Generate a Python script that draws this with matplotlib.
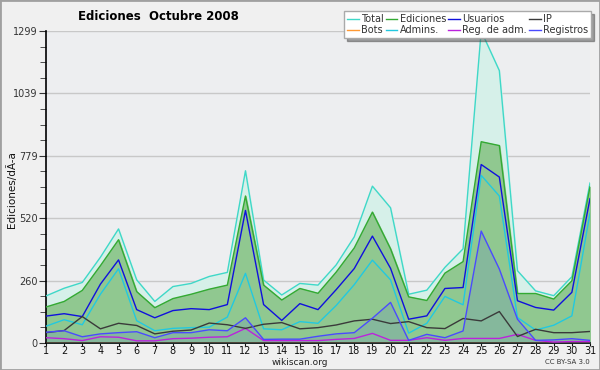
import matplotlib
matplotlib.use("Agg")
import matplotlib.pyplot as plt
from matplotlib.patches import Rectangle
from matplotlib.ticker import MultipleLocator

# days of October 2008
days = list(range(1, 32))

total = [196, 228, 252, 357, 475, 263, 173, 235, 248, 277, 294, 717, 262, 200, 248, 241,
         325, 442, 653, 563, 203, 220, 315, 392, 1299, 1134, 301, 217, 197, 276, 666]
ediciones = [150, 173, 219, 322, 430, 214, 147, 185, 203, 224, 241, 612, 241, 179, 227, 207,
             295, 396, 545, 392, 192, 177, 291, 339, 838, 822, 206, 206, 183, 259, 650]
usuarios = [112, 122, 110, 245, 346, 139, 105, 135, 143, 139, 160, 552, 160, 94, 164, 139,
            222, 310, 445, 311, 99, 113, 227, 231, 743, 691, 176, 148, 137, 211, 601]
ip = [43, 52, 110, 59, 82, 73, 38, 49, 54, 83, 76, 61, 78, 85, 59, 64,
      75, 92, 99, 81, 89, 64, 60, 102, 92, 131, 27, 57, 43, 43, 48]
bots = [0] * 31
admins = [70, 97, 76, 203, 309, 93, 51, 61, 64, 66, 108, 290, 59, 55, 89, 82,
          156, 243, 345, 263, 41, 82, 194, 159, 698, 612, 106, 54, 74, 113, 540]
reg_adm = [22, 18, 10, 26, 24, 9, 9, 18, 20, 24, 26, 61, 10, 10, 10, 10,
           15, 19, 40, 11, 11, 22, 11, 19, 19, 19, 36, 11, 4, 6, 6]
registros = [45, 51, 26, 38, 43, 47, 22, 43, 43, 55, 51, 105, 15, 16, 16, 28,
             38, 43, 103, 169, 11, 36, 22, 50, 466, 308, 99, 11, 13, 18, 11]

yticks = [0, 260, 520, 779, 1039, 1299]

plt.rcParams['font.family'] = ['DejaVu Sans']

fig = plt.figure(figsize=(6, 3.7), dpi=100, facecolor="#f0f0f0")
ax = fig.add_axes([46 / 600, 1 - 343 / 370, 544 / 600, 312 / 370])
ax.set_facecolor("#edeef0")

# filled areas
ax.fill_between(days, total, color="#d6f0e9", zorder=1)
ax.fill_between(days, ediciones, color="#90c890", zorder=2)
ax.fill_between(days, registros, color="#5a78d0", alpha=0.2, zorder=3, linewidth=0)

lw = 1.0
ax.plot(days, total, color="#3fd8c8", lw=lw, zorder=5, label="Total")
ax.plot(days, bots, color="#ff9933", lw=lw, zorder=4, label="Bots")
ax.plot(days, ediciones, color="#33aa33", lw=lw, zorder=5, label="Ediciones")
ax.plot(days, admins, color="#22c8e0", lw=lw, zorder=5, label="Admins.")
ax.plot(days, usuarios, color="#1010dd", lw=lw, zorder=5, label="Usuarios")
ax.plot(days, reg_adm, color="#bb22dd", lw=lw, zorder=5, label="Reg. de adm.")
ax.plot(days, ip, color="#3a3a3a", lw=lw, zorder=5, label="IP")
ax.plot(days, registros, color="#4a4aff", lw=lw, zorder=5, label="Registros")

ax.set_xlim(1, 31)
ax.set_ylim(0, 1299)
ax.set_xticks(days)
ax.set_yticks(yticks)
ax.yaxis.set_minor_locator(MultipleLocator(1299 / 20))
ax.tick_params(axis="y", which="major", length=5, labelsize=7, colors="#333333",
               pad=1)
ax.tick_params(axis="y", which="minor", length=4, color="#333333")
ax.tick_params(axis="x", length=2, labelsize=7, pad=0.5, colors="#111111")
ax.grid(axis="y", color="#c8c8c8", lw=1)
ax.set_axisbelow(True)
for s in ["top", "right"]:
    ax.spines[s].set_visible(False)
for s in ["left", "bottom"]:
    ax.spines[s].set_color("black")
    ax.spines[s].set_linewidth(1.2)

fig.text(12 / 600, 1 - 190 / 370, "Ediciones/dÃ-a", fontsize=7.5,
         rotation=90, ha="center", va="center", color="#111111")

fig.text(158 / 600, 1 - 17 / 370, "Ediciones  Octubre 2008", fontsize=8.5,
         fontweight="bold", ha="center", va="center")
fig.text(300 / 600, 1 - 362.5 / 370, "wikiscan.org", fontsize=6.5, ha="center",
         va="center", color="#222222")
fig.text(590 / 600, 1 - 362.5 / 370, "CC BY-SA 3.0", fontsize=5, ha="right",
         va="center", color="#333333")

leg = fig.legend(loc="upper right", bbox_to_anchor=(591 / 600, 1 - 11 / 370),
                 ncol=4, fontsize=7, frameon=True, fancybox=False, shadow=True,
                 edgecolor="#aaaaaa", framealpha=1, handlelength=1.2,
                 handletextpad=0.25, columnspacing=0.2, borderpad=0.3,
                 labelspacing=0.15, borderaxespad=0)
for t in leg.get_texts():
    t.set_color("#333333")

# outer border
fig.patches.append(Rectangle((0, 0), 1, 1, transform=fig.transFigure,
                             fill=False, edgecolor="#a0a0a0", lw=2))

fig.savefig("out.png", dpi=100, facecolor=fig.get_facecolor())
